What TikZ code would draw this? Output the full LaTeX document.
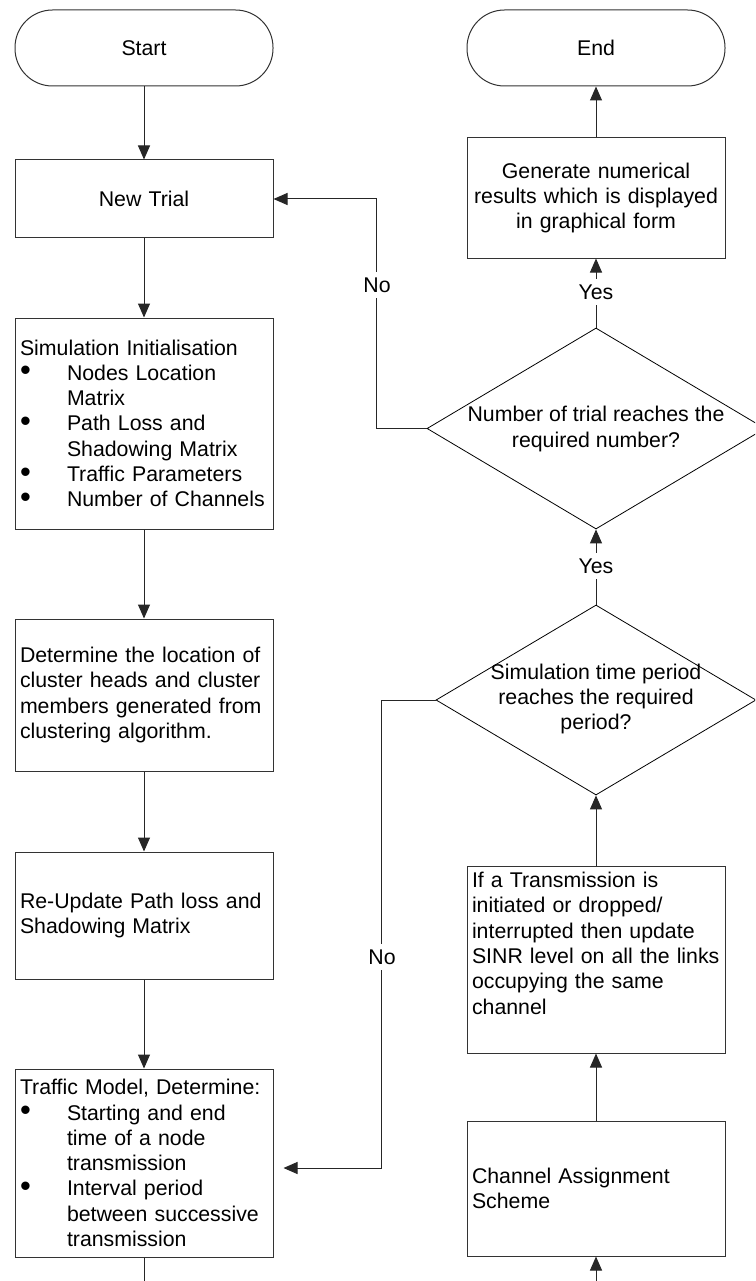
\documentclass[tikz,border=0pt]{standalone}
\usepackage{fontspec}
\usepackage{graphicx}
\setmainfont{Liberation Sans}
\usetikzlibrary{arrows.meta,shapes.geometric,calc}

% bullet entry and its hanging continuation
\newcommand{\bitem}[1]{\makebox[47pt][l]{\raisebox{-0.5pt}{\scalebox{1.45}{\textbullet}}}#1}
\newcommand{\bcont}{\hspace*{47pt}}

\begin{document}
\begin{tikzpicture}[x=1pt,y=-1pt,
  every node/.style={font=\fontsize{21.3pt}{25.3pt}\selectfont},
  box/.style={draw=black!80,line width=1pt,inner xsep=5pt,inner ysep=0pt,
              text width=248pt,align=left},
  cbox/.style={box,align=center},
  term/.style={cbox,rounded corners=37.5pt},
  decision/.style={draw=black,line width=0.8pt,diamond,inner sep=0pt},
  flow/.style={draw=black!85,line width=1pt,-{Triangle[length=14pt,width=12pt]}},
  plain/.style={draw=black!85,line width=1pt},
  tag/.style={fill=white,inner xsep=2pt,inner ysep=6pt}
]
\useasboundingbox (0,0) rectangle (755,1281);
\clip (0,0) rectangle (755,1281);

% ---- left column ----
\node[term,minimum height=76pt] (start) at (144,48) {Start};
\node[cbox,minimum height=78pt] (newtrial) at (144,199) {New Trial};
\node[box,minimum height=211pt] (siminit) at (144,423.5)
  {Simulation Initialisation\\
   \bitem{Nodes Location}\\ \bcont Matrix\\
   \bitem{Path Loss and}\\ \bcont Shadowing Matrix\\
   \bitem{Traffic Parameters}\\
   \bitem{Number of Channels}};
\node[box,minimum height=152pt] (determine) at (144,695)
  {Determine the location of\\cluster heads and cluster\\members generated from\\clustering algorithm.};
\node[box,minimum height=127pt] (reupdate) at (144,915.5)
  {Re-Update Path loss and\\Shadowing Matrix};
\node[box,minimum height=188pt] (traffic) at (144,1163)
  {Traffic Model, Determine:\\
   \bitem{Starting and end}\\ \bcont time of a node\\ \bcont transmission\\
   \bitem{Interval period}\\ \bcont between successive\\ \bcont transmission};

% ---- right column ----
\node[term,minimum height=76pt] (end) at (596,48) {End};
\node[cbox,minimum height=120pt] (generate) at (596,198)
  {Generate numerical\\results which is displayed\\in graphical form};
\node[decision,minimum width=338pt,minimum height=201pt] (d1) at (596,428.5) {};
\node[align=center,inner sep=0pt] (d1txt) at (596,429)
  {Number of trial reaches the\\required number?};
\node[decision,minimum width=320pt,minimum height=190pt] (d2) at (596,700) {};
\node[align=center,inner sep=0pt] (d2txt) at (596,699)
  {Simulation time period\\reaches the required\\period?};
\node[box,minimum height=187pt] (sinr) at (596,959.5)
  {If a Transmission is\\initiated or dropped/\\interrupted then update\\SINR level on all the links\\occupying the same\\channel\\ \strut};
\node[box,minimum height=135pt] (channel) at (596,1188.5)
  {Channel Assignment\\Scheme};

% free ends at the lower edge and the arrow end beside the traffic box
\coordinate (leftout) at (144,1290);
\coordinate (rightin) at (596,1290);
\coordinate (trafin) at ($(traffic.east)+(10,5)$);

% ---- connectors ----
\draw[flow] (start) -- (newtrial);
\draw[flow] (newtrial) -- (siminit);
\draw[flow] (siminit) -- (determine);
\draw[flow] (determine) -- (reupdate);
\draw[flow] (reupdate) -- (traffic);
\draw[plain] (traffic) -- (leftout);

\draw[flow] (rightin) -- (channel);
\draw[flow] (channel) -- (sinr);
\draw[flow] (sinr) -- (d2.south);
\draw[flow] (d2.north) -- (d1.south);
\draw[flow] (d1.north) -- (generate);
\draw[flow] (generate) -- (end);

\draw[flow] (d1.west) -- ++(-50,0) |- (newtrial.east);
\draw[flow] (d2.west) -- ++(-54,0) |- (trafin);

% ---- branch labels ----
\node[tag] (noA) at (377,285) {No};
\node[tag] (yesA) at (596,292) {Yes};
\node[tag] (yesB) at (596,566) {Yes};
\node[tag] (noB) at (382,957) {No};
\end{tikzpicture}
\end{document}
